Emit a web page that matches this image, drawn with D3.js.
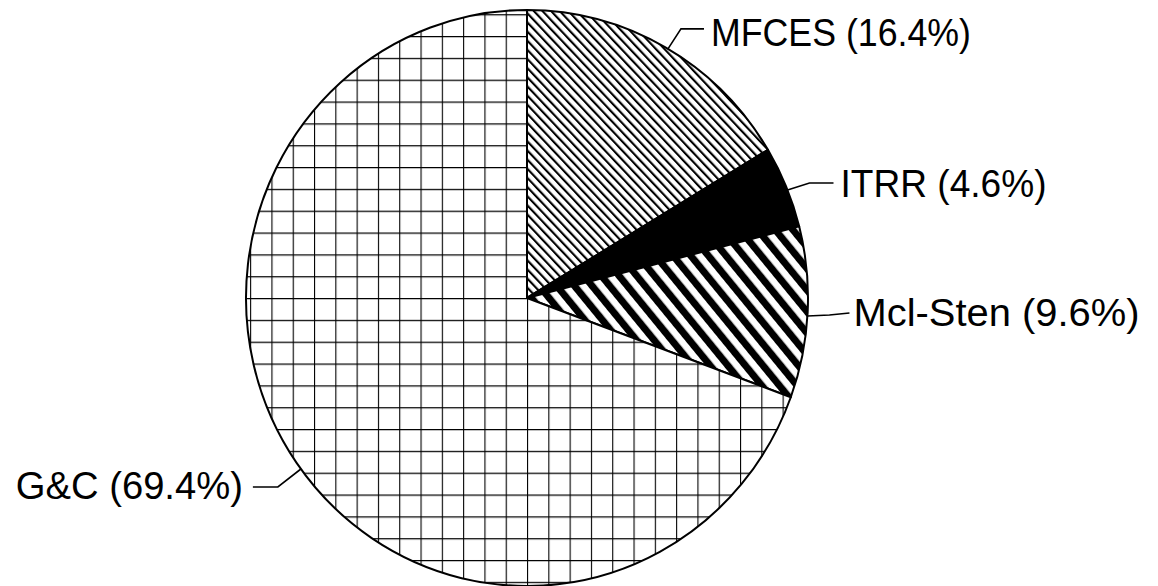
<!DOCTYPE html>
<html>
<head>
<meta charset="utf-8">
<script src="https://cdn.jsdelivr.net/npm/d3@7/dist/d3.min.js"></script>
<style>
  html, body { margin: 0; padding: 0; background: #fff; }
  svg { display: block; }
  text { font-family: "Liberation Sans", Arial, Helvetica, sans-serif; fill: #000; }
</style>
</head>
<body>
<svg id="chart" width="1158" height="586"></svg>
<script>
// Funding shares by program (percent)
const categories = ["MFCES", "ITRR", "Mcl-Sten", "G&C"];
const shares = [16.4, 4.6, 9.6, 69.4];
const labels = ["MFCES (16.4%)", "ITRR (4.6%)", "Mcl-Sten (9.6%)", "G&C (69.4%)"];
const fills = ["url(#hatchFine)", "#000", "url(#hatchBold)", "url(#grid)"];

const width = 1158, height = 586;
const cx = 527, cy = 298, r = 281, squash = 1.025;

const svg = d3.select("#chart");
const defs = svg.append("defs");

// fine diagonal hatching
const pFine = defs.append("pattern")
  .attr("id", "hatchFine").attr("patternUnits", "userSpaceOnUse")
  .attr("width", 6.2).attr("height", 6.2)
  .attr("patternTransform", "rotate(-44)");
pFine.append("rect").attr("width", 6.2).attr("height", 6.2).attr("fill", "#fff");
pFine.append("rect").attr("x", 0).attr("y", 0).attr("width", 2.1).attr("height", 6.2).attr("fill", "#000");

// bold diagonal stripes
const pBold = defs.append("pattern")
  .attr("id", "hatchBold").attr("patternUnits", "userSpaceOnUse")
  .attr("width", 13.5).attr("height", 13.5)
  .attr("patternTransform", "rotate(-40)");
pBold.append("rect").attr("width", 13.5).attr("height", 13.5).attr("fill", "#fff");
pBold.append("rect").attr("x", 0).attr("y", 0).attr("width", 7).attr("height", 13.5).attr("fill", "#000");

// square grid
const g = 21.3;
const pGrid = defs.append("pattern")
  .attr("id", "grid").attr("patternUnits", "userSpaceOnUse")
  .attr("width", g).attr("height", g).attr("x", 0).attr("y", 0);
pGrid.append("rect").attr("width", g).attr("height", g).attr("fill", "#fff");
pGrid.append("path").attr("d", `M0,0V${g}M0,0H${g}`)
  .attr("stroke", "#000").attr("stroke-width", 2.2).attr("fill", "none");

const pie = d3.pie().sort(null).value(d => d.value);
const arcs = pie(categories.map((c, i) => ({ name: c, value: shares[i], label: labels[i], fill: fills[i] })));
const arc = d3.arc().innerRadius(0).outerRadius(r);

const gPie = svg.append("g").attr("transform", `translate(${cx},${cy}) scale(1,${squash})`);
gPie.selectAll("path.slice").data(arcs).join("path")
  .attr("class", "slice")
  .attr("d", arc)
  .attr("fill", d => d.data.fill)
  .attr("stroke", "#000")
  .attr("stroke-width", 2)
  .attr("stroke-linejoin", "round");

// label leaders: anchor position within the slice's arc, elbow and end offsets from the anchor
const leaderSpec = {
  "MFCES":    { frac: 0.51,  elbow: [13, -20], end: [36, -20], gap: 7,  dy: 3, len: 260, anchor: "start" },
  "ITRR":     { frac: 0.54,  elbow: [22, -7],  end: [46, -7],  gap: 7,  dy: 0, len: 206, anchor: "start" },
  "Mcl-Sten": { frac: 0.52,  elbow: [22, -1],  end: [42, -3],  gap: 4,  dy: -1, len: 286, anchor: "start" },
  "G&C":      { frac: 0.494, elbow: [-23, 18], end: [-48, 18], gap: 10, dy: -2, len: 227, anchor: "end" }
};

const leaders = svg.append("g");
arcs.forEach(d => {
  const s = leaderSpec[d.data.name];
  const a = d.startAngle + (d.endAngle - d.startAngle) * s.frac;
  const px = cx + r * Math.sin(a);
  const py = cy - r * Math.cos(a) * squash;
  const e = [px + s.elbow[0], py + s.elbow[1]];
  const t = [px + s.end[0], py + s.end[1]];
  leaders.append("path")
    .attr("d", d3.line()([[px, py], e, t]))
    .attr("fill", "none").attr("stroke", "#000").attr("stroke-width", 1.6);
  leaders.append("text")
    .attr("x", t[0] + (s.anchor === "start" ? s.gap : -s.gap))
    .attr("y", t[1] + s.dy)
    .attr("dy", "0.36em")
    .attr("text-anchor", s.anchor)
    .attr("font-size", 38)
    .attr("textLength", s.len)
    .attr("lengthAdjust", "spacingAndGlyphs")
    .text(d.data.label);
});
</script>
</body>
</html>
